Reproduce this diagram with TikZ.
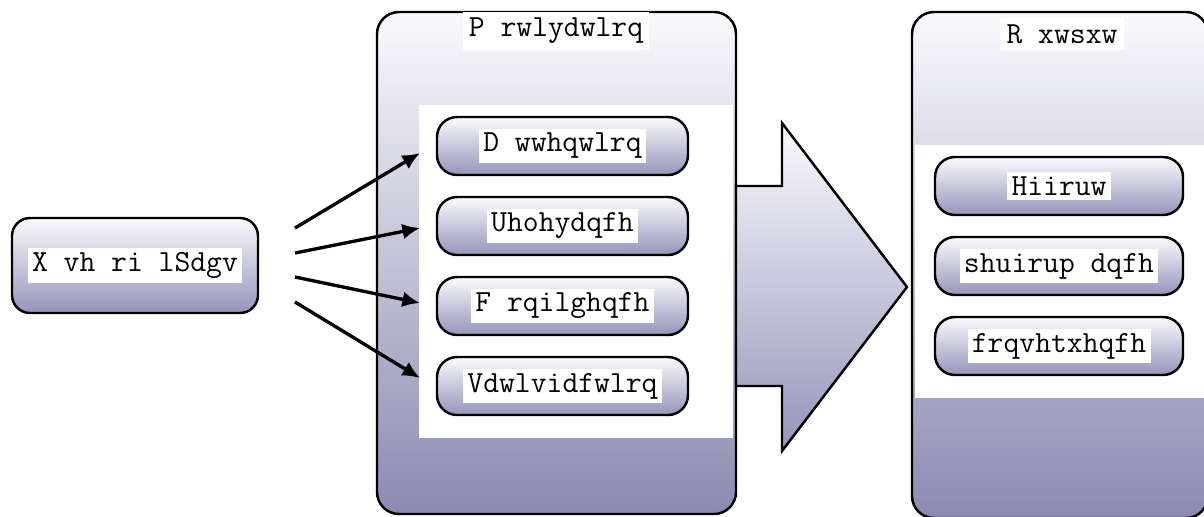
\documentclass[tikz,border=0pt]{standalone}
\usetikzlibrary{arrows.meta}

\definecolor{lavtop}{RGB}{250,250,253}
\definecolor{lavbot}{RGB}{150,148,186}
\definecolor{lavdeep}{RGB}{140,138,176}

\setlength{\fboxsep}{2.5pt}
\newcommand{\whitetag}[1]{\colorbox{white}{#1}}

\tikzset{
    pill/.style={draw, line width=1.4pt, rounded corners=0.4cm, top color=lavtop, bottom color=lavbot,
        minimum width=5.02cm, minimum height=1.16cm, inner sep=0pt,
        font=\ttfamily\fontsize{17.5}{19}\selectfont},
    panel/.style={draw, line width=1.4pt, rounded corners=0.44cm, top color=lavtop, bottom color=lavdeep, inner sep=0pt},
    blank/.style={fill=white, inner sep=0pt},
    title/.style={fill=white, inner sep=3.5pt, font=\ttfamily\fontsize{17.5}{19}\selectfont},
    link/.style={line width=1.9pt, -{Latex[length=10pt,width=9pt]}}
}

\begin{document}
\begin{tikzpicture}
        \clip (0, 0) rectangle (24.08, -10.32);

        % Input
        \node[pill, minimum width=4.92cm, minimum height=1.90cm, rounded corners=0.36cm] (ipads) at (2.70, -5.31) {\whitetag{X vh ri lSdgv}};

        % Motivation panel
        \node[panel, minimum width=7.18cm, minimum height=10.04cm] (motiv) at (11.13, -5.26) {};
        \node[blank, minimum width=6.28cm, minimum height=6.66cm] (motivarea) at (11.52, -5.43) {};
        \node[title] (motivtitle) at (11.12, -0.62) {P rwlydwlrq};

        \node[pill] (att) at (11.25, -2.92) {\whitetag{D wwhqwlrq}};
        \node[pill] (rel) at (11.25, -4.52) {\whitetag{Uhohydqfh}};
        \node[pill] (conf) at (11.25, -6.12) {\whitetag{F rqilghqfh}};
        \node[pill] (sat) at (11.25, -7.72) {\whitetag{Vdwlvidfwlrq}};

        % Block arrow
        \draw[line width=1.4pt, top color=lavtop, bottom color=lavbot]
            (14.72, -3.72) -- (15.64, -3.72) -- (15.64, -2.46) -- (18.14, -5.74)
            -- (15.64, -9.02) -- (15.64, -7.72) -- (14.72, -7.72) -- cycle;

        % Output panel
        \node[panel, minimum width=5.92cm, minimum height=10.12cm] (output) at (21.20, -5.30) {};
        \node[blank, minimum width=5.82cm, minimum height=5.06cm] (outarea) at (21.21, -5.43) {};
        \node[title] (outtitle) at (21.24, -0.68) {R xwsxw};

        \node[pill, minimum width=4.96cm] (effort) at (21.18, -3.72) {\whitetag{Hiiruw}};
        \node[pill, minimum width=4.96cm] (perf) at (21.18, -5.32) {\whitetag{shuirup dqfh}};
        \node[pill, minimum width=4.96cm] (cons) at (21.18, -6.92) {\whitetag{frqvhtxhqfh}};

        % Connections
        \coordinate (s1) at (5.90, -4.56);
        \coordinate (s2) at (5.90, -5.06);
        \coordinate (s3) at (5.90, -5.54);
        \coordinate (s4) at (5.90, -6.04);
        \coordinate (e1) at (8.40, -3.06);
        \coordinate (e2) at (8.40, -4.56);
        \coordinate (e3) at (8.40, -6.06);
        \coordinate (e4) at (8.40, -7.56);

        \draw[link] (s1) -- (e1);
        \draw[link] (s2) -- (e2);
        \draw[link] (s3) -- (e3);
        \draw[link] (s4) -- (e4);
    \end{tikzpicture}
\end{document}
